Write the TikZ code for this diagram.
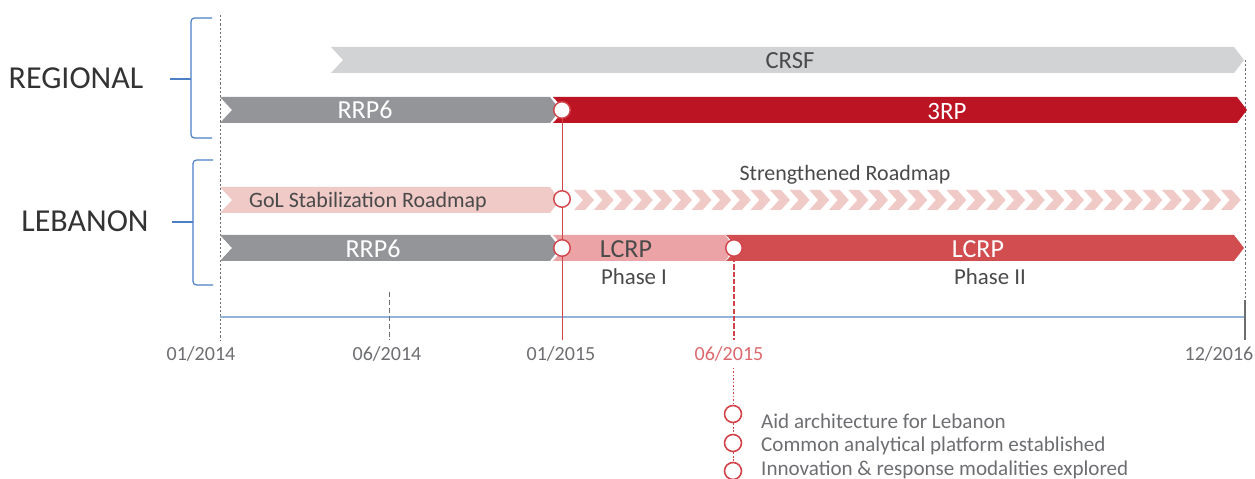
\documentclass[tikz,border=0pt]{standalone}
\usepackage{fontspec}
\setmainfont{Carlito}
\definecolor{crsfgray}{HTML}{D1D3D4}
\definecolor{rrpgray}{HTML}{939598}
\definecolor{trpred}{HTML}{BC1423}
\definecolor{golpink}{HTML}{F0CAC7}
\definecolor{lcrpone}{HTML}{EBA3A5}
\definecolor{lcrptwo}{HTML}{D24D50}
\definecolor{ringred}{HTML}{D2434A}
\definecolor{axisblue}{HTML}{93B3DD}
\definecolor{braceblue}{HTML}{4C7FC6}
\definecolor{txtgray}{HTML}{4A4A4A}
\definecolor{dategray}{HTML}{6D6E71}
\newcommand{\pxfont}[1]{\fontsize{#1}{#1}\selectfont}
% ribbon: colour, left x, right x, mid y
\newcommand{\ribbon}[4]{%
  \fill [#1] (#2,#4-13) -- (#3-10,#4-13) -- (#3,#4) -- (#3-10,#4+13) --
    (#2,#4+13) -- (#2+12,#4) -- cycle;}
\begin{document}
\begin{tikzpicture}[x = .02cm, y = -.02cm,
    ring/.style = {circle, draw = ringred, fill = white, line width = .8pt,
      minimum size = 16.5*.02cm, inner sep = 0pt},
    bartext/.style = {text = white, font = \pxfont{14.8}},
    darktext/.style = {text = txtgray, font = \pxfont{12.5}},
    datetext/.style = {text = dategray, font = \pxfont{11.4}},
    brace/.style = {draw = braceblue, line width = .7pt, rounded corners = 2pt},
    side/.style = {text = black!80, font = \pxfont{18.2}}]
  \useasboundingbox (0,0) rectangle (1255,479);

  % left side
  \node [side] (regional) at (76,78) {REGIONAL};
  \node [side] (lebanon) at (85,221) {LEBANON};
  \draw [brace] (212,18) -- (191,18) -- (191,138) -- (212,138);
  \draw [brace] (191,79) -- (170,79);
  \draw [brace] (213,160) -- (193,160) -- (193,285) -- (213,285);
  \draw [brace] (193,222) -- (172,222);

  % time grid
  \draw [dategray, line width = .5pt, dash pattern = on 1.2pt off 1.2pt]
    (220,15) -- (220,340);
  \draw [dategray, line width = .5pt, dash pattern = on 1.2pt off 1.2pt]
    (1245,60) -- (1245,305);
  \draw [axisblue, line width = .8pt] (220,317) -- (1245,317);

  % bars
  \ribbon{crsfgray}{331}{1244}{60}
  \ribbon{rrpgray}{220}{560}{110}
  \ribbon{trpred}{553}{1247}{110}
  \ribbon{golpink}{220}{560}{200}
  \ribbon{rrpgray}{220}{560}{248}
  \ribbon{lcrpone}{553}{735}{248}
  \ribbon{lcrptwo}{726}{1244}{248}
  \foreach \i in {0,...,33}
    \fill [golpink] (574+\i*19.6,190) -- (585+\i*19.6,190) -- (594+\i*19.6,200) --
      (585+\i*19.6,210) -- (574+\i*19.6,210) -- (583+\i*19.6,200) -- cycle;

  % bar labels
  \node [text = txtgray, font = \pxfont{14}] (crsf) at (790,61) {CRSF};
  \node [bartext] (rrpreg) at (365,110) {RRP6};
  \node [bartext, font = \pxfont{14.2}] (trp) at (947,111) {3RP};
  \node [darktext] (strong) at (845,175) {Strengthened Roadmap};
  \node [darktext] (gol) at (368,202) {GoL Stabilization Roadmap};
  \node [bartext] (rrpleb) at (373,249) {RRP6};
  \node [text = txtgray, font = \pxfont{14.8}] (lcrp1) at (626,249) {LCRP};
  \node [bartext] (lcrp2) at (978,249) {LCRP};
  \node [darktext, font = \pxfont{13}] (phase1) at (634,277) {Phase I};
  \node [darktext, font = \pxfont{13}] (phase2) at (990,277) {Phase II};

  % milestones
  \node [ring] (m3rp) at (562,110) {};
  \node [ring] (mgol) at (562,199) {};
  \node [ring] (mlcrp) at (562,248) {};
  \node [ring] (mphase) at (734,248) {};
  \coordinate (cut15) at (562,340);
  \draw [ringred, line width = .5pt] (m3rp) -- (mgol) -- (mlcrp) -- (cut15);

  % dates
  \node [datetext] (d0114) at (201,354) {01/2014};
  \node [datetext] (d0614) at (387,354) {06/2014};
  \node [datetext] (d0115) at (561,354) {01/2015};
  \node [datetext, text = ringred!80] (d0615) at (729,354) {06/2015};
  \node [datetext] (d1216) at (1219,354) {12/2016};
  \coordinate (t0614) at (389,292);
  \coordinate (t1216) at (1245,300);
  \draw [dategray, line width = .5pt, dash pattern = on 3pt off 1.5pt]
    (t0614) -- (t0614 |- d0614.north);
  \draw [dategray, line width = .6pt] (t1216) -- (t1216 |- d1216.north);
  \draw [ringred, line width = .6pt, dash pattern = on 3pt off 1.2pt]
    (mphase) -- (mphase |- d0615.north);

  % outcomes
  \node [ring, line width = .9pt, minimum size = 17*.02cm] (aid) at (733,414) {};
  \node [ring, line width = .9pt, minimum size = 17*.02cm] (common) at (733,443) {};
  \node [ring, line width = .9pt, minimum size = 17*.02cm] (innov) at (733,471) {};
  \draw [ringred, line width = .5pt, dash pattern = on 1pt off 1pt]
    (aid |- d0615.south) -- (aid) -- (common) -- (innov);
  \node [anchor = west, text = dategray, font = \pxfont{12}] (aidtxt)
    at (755,421) {Aid architecture for Lebanon};
  \node [anchor = west, text = dategray, font = \pxfont{12}] (commontxt)
    at (755,446) {Common analytical platform established};
  \node [anchor = west, text = dategray, font = \pxfont{12}] (innovtxt)
    at (755,470) {Innovation \& response modalities explored};
\end{tikzpicture}
\end{document}
